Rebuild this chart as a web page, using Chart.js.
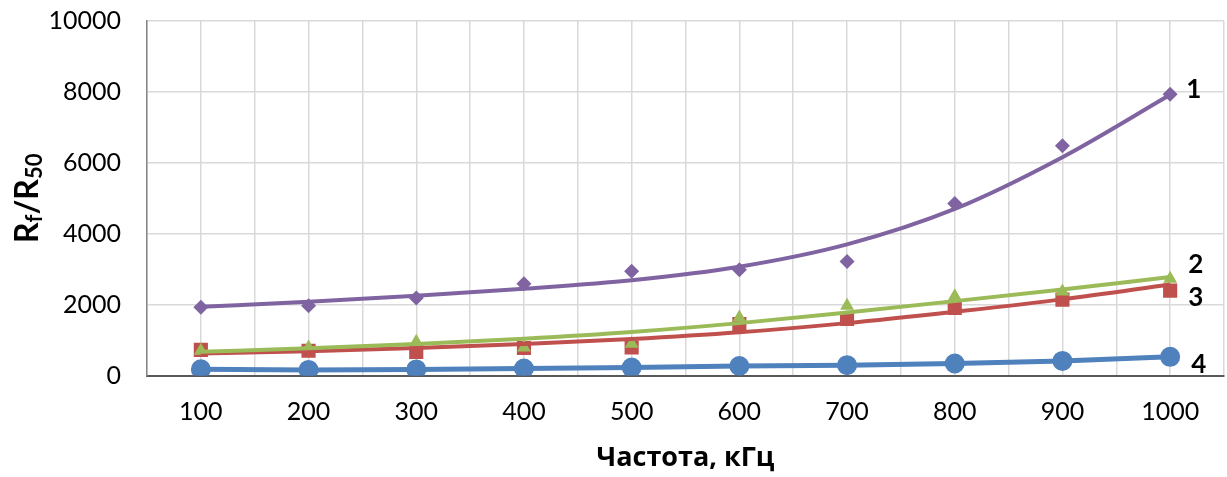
<!DOCTYPE html>
<html>
<head>
<meta charset="utf-8">
<script src="https://cdn.jsdelivr.net/npm/chart.js@4.4.0/dist/chart.umd.min.js"></script>
<style>
  html, body { margin: 0; padding: 0; background: #fff; }
  #wrap { width: 1227px; height: 477px; }
</style>
</head>
<body>
<div id="wrap"><canvas id="chart"></canvas></div>
<script>
// Частота, кГц
const freqs = [100, 200, 300, 400, 500, 600, 700, 800, 900, 1000];

// Измеренные точки
const series1 = [1924, 1972, 2190, 2587, 2943, 2983, 3218, 4850, 6481, 7935];
const series2 = [700, 790, 953, 790, 900, 1641, 1972, 2236, 2369, 2728];
const series3 = [727, 700, 670, 778, 792, 1455, 1596, 1907, 2142, 2397];
const series4 = [180, 160, 175, 200, 225, 270, 295, 340, 415, 530];

// Линии тренда
const trend1 = [1940, 2080, 2250, 2450, 2690, 3070, 3700, 4700, 6160, 7920];
const trend2 = [670, 770, 890, 1040, 1230, 1480, 1780, 2100, 2430, 2780];
const trend3 = [620, 690, 780, 890, 1030, 1220, 1480, 1800, 2150, 2570];

const curveLabels = ['1', '2', '3', '4'];
const yTicks = [0, 2000, 4000, 6000, 8000, 10000];

const PURPLE = '#8064A2';
const GREEN = '#9BBB59';
const RED = '#C0504D';
const BLUE = '#4F81BD';

const pts = arr => arr.map((v, i) => ({ x: freqs[i], y: v }));

// Подписи кривых справа
const curveLabelPlugin = {
    id: 'curveLabels',
    afterDatasetsDraw(chart) {
        const { ctx, scales: { x, y } } = chart;
        const last = freqs.length - 1;
        const anchors = [trend1[last], trend2[last], trend3[last], series4[last]];
        const dx = [16, 18, 18, 21];
        const dy = [-5, -12, 13, 8];
        ctx.save();
        ctx.fillStyle = '#000';
        ctx.font = 'bold 26px Lato';
        ctx.textAlign = 'left';
        ctx.textBaseline = 'middle';
        anchors.forEach((v, i) => {
            ctx.fillText(curveLabels[i], x.getPixelForValue(freqs[last]) + dx[i], y.getPixelForValue(v) + dy[i]);
        });
        ctx.restore();
    }
};

// Подпись оси Y с индексами: Rf/R50
const yTitlePlugin = {
    id: 'yTitle',
    afterDraw(chart) {
        const { ctx, chartArea } = chart;
        const big = 'bold 32px Lato';
        const small = 'bold 22px Lato';
        const parts = [
            { t: 'R', f: big, dy: 0 },
            { t: 'f', f: small, dy: 7 },
            { t: '/R', f: big, dy: 0 },
            { t: '50', f: small, dy: 7 }
        ];
        ctx.save();
        let total = 0;
        parts.forEach(p => { ctx.font = p.f; p.w = ctx.measureText(p.t).width; total += p.w; });
        ctx.translate(28, (chartArea.top + chartArea.bottom) / 2);
        ctx.rotate(-Math.PI / 2);
        ctx.fillStyle = '#000';
        ctx.textBaseline = 'middle';
        let cx = -total / 2;
        parts.forEach(p => {
            ctx.font = p.f;
            ctx.fillText(p.t, cx, p.dy);
            cx += p.w;
        });
        ctx.restore();
    }
};

const tickFont = { family: 'Lato', size: 25 };

new Chart(document.getElementById('chart'), {
    type: 'line',
    data: {
        datasets: [
            { data: pts(trend1), borderColor: PURPLE, borderWidth: 4, pointRadius: 0, tension: 0.4, cubicInterpolationMode: 'monotone' },
            { data: pts(trend2), borderColor: GREEN, borderWidth: 4, pointRadius: 0, tension: 0.4, cubicInterpolationMode: 'monotone' },
            { data: pts(trend3), borderColor: RED, borderWidth: 4, pointRadius: 0, tension: 0.4, cubicInterpolationMode: 'monotone' },
            { data: pts(series4), borderColor: BLUE, backgroundColor: BLUE, borderWidth: 5, pointRadius: 7.5, pointStyle: 'circle', tension: 0 },
            { data: pts(series1), showLine: false, pointStyle: 'rectRot', pointRadius: 7.5, backgroundColor: PURPLE, borderColor: PURPLE, borderWidth: 0 },
            { data: pts(series2), showLine: false, pointStyle: 'triangle', pointRadius: 8, backgroundColor: GREEN, borderColor: GREEN, borderWidth: 0 },
            { data: pts(series3), showLine: false, pointStyle: 'rect', pointRadius: 10, backgroundColor: RED, borderColor: RED, borderWidth: 0 }
        ]
    },
    options: {
        responsive: true,
        maintainAspectRatio: false,
        animation: false,
        layout: { autoPadding: false, padding: { top: 21, right: 3, left: 0, bottom: 2 } },
        plugins: {
            legend: { display: false },
            tooltip: { enabled: false }
        },
        scales: {
            x: {
                type: 'linear',
                min: 50,
                max: 1050,
                ticks: {
                    stepSize: 50,
                    autoSkip: false,
                    maxRotation: 0,
                    color: '#000',
                    font: tickFont,
                    padding: 3,
                    callback: v => (v % 100 === 0 ? String(v) : '')
                },
                grid: { color: '#d9d9d9', lineWidth: 1.5, tickLength: 18, tickColor: 'rgba(0,0,0,0)' },
                border: { color: '#595959', width: 2 },
                title: {
                    display: true,
                    text: 'Частота, кГц',
                    color: '#000',
                    font: { family: 'Open Sans', size: 27, weight: 'bold' },
                    padding: { top: 13, bottom: 0 }
                }
            },
            y: {
                min: 0,
                max: 10000,
                afterBuildTicks: s => { s.ticks = yTicks.map(v => ({ value: v })); },
                afterFit: s => { s.width = 147; },
                ticks: {
                    color: '#000',
                    font: tickFont,
                    padding: 4,
                    callback: v => String(v)
                },
                grid: { color: '#d9d9d9', lineWidth: 1.5, tickLength: 22, tickColor: 'rgba(0,0,0,0)' },
                border: { color: '#868686', width: 1.5 }
            }
        }
    },
    plugins: [curveLabelPlugin, yTitlePlugin]
});
</script>
</body>
</html>
